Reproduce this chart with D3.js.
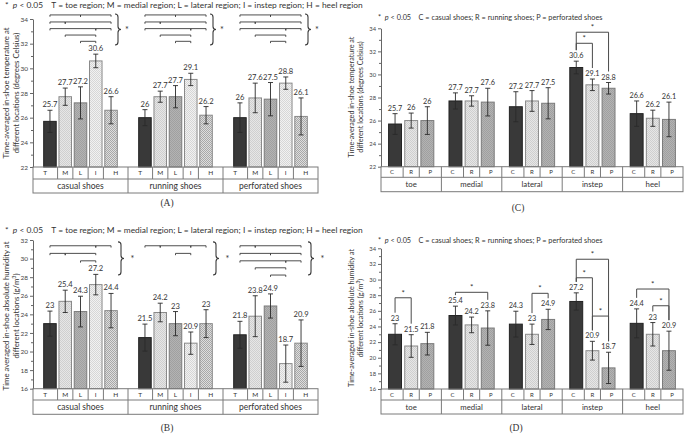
<!DOCTYPE html>
<html><head><meta charset="utf-8">
<script src="https://cdn.jsdelivr.net/npm/d3@7"></script>
<style>body{margin:0;background:#fff}svg{display:block;font-family:Lato,"Open Sans",sans-serif}</style>
</head><body><div id="chart"></div>
<script>
// ---------- data ----------
const regions = ["T","M","L","I","H"];
const regionNames = ["toe","medial","lateral","instep","heel"];
const shoes = ["casual shoes","running shoes","perforated shoes"];
const shoeCodes = ["C","R","P"];

// in-shoe temperature (deg C), rows = shoes, cols = regions
const tempMean = [
  [25.7, 27.7, 27.2, 30.6, 26.6],
  [26.0, 27.7, 27.7, 29.1, 26.2],
  [26.0, 27.6, 27.5, 28.8, 26.1]
];
const tempSD = [
  [0.9, 0.7, 1.3, 0.55, 1.1],
  [0.65, 0.45, 0.9, 0.5, 0.7],
  [1.2, 1.2, 1.35, 0.5, 1.5]
];
// absolute humidity (g/m3)
const humMean = [
  [23.0, 25.4, 24.3, 27.2, 24.4],
  [21.5, 24.2, 23.0, 20.9, 23.0],
  [21.8, 23.8, 24.9, 18.7, 20.9]
];
const humSD = [
  [1.35, 1.2, 1.65, 1.1, 1.85],
  [1.45, 1.0, 1.3, 1.2, 1.5],
  [1.45, 2.2, 1.3, 2.0, 2.5]
];
const tempTicks = [22,24,26,28,30,32,34];
const humTicksB = [16,18,20,22,24,26,28,30,32];
const humTicksD = [16,18,20,22,24,26,28,30,32,34];

// significant within-shoe comparisons (rows of lines)
const tempSigRows = [
  {level:34.33, pairs:[["T","L"],["L","H"]]},
  {level:33.76, pairs:[["T","M"],["M","H"]]},
  {level:33.22, pairs:[["T","I"],["I","H"]]},
  {level:32.70, pairs:[["M","I"]]},
  {level:32.19, pairs:[["L","I"]]}
];
const tempSig = [tempSigRows, tempSigRows, tempSigRows];
const humSig = [
  [{level:31.38, pairs:[["T","I"],["I","H"]]},
   {level:30.56, pairs:[["T","M"],["M","I"]]},
   {level:29.76, pairs:[["L","I"]]}],
  [{level:31.38, pairs:[["T","M"],["M","I"],["I","H"]]},
   {level:30.56, pairs:[["L","I"]]}],
  [{level:31.38, pairs:[["T","M"],["M","H"]]},
   {level:30.56, pairs:[["T","L"],["L","H"]]},
   {level:29.76, pairs:[["T","I"],["I","H"]]},
   {level:29.01, pairs:[["M","I"]]},
   {level:28.23, pairs:[["L","I"]]}]
];
// significant between-shoe comparisons
const tempCross = [
  {region:"instep", a:"C", b:"P", level:33.66},
  {region:"instep", a:"C", b:"R", level:32.7}
];
const humCross = [
  {region:"toe", a:"C", b:"R", level:27.67},
  {region:"medial", a:"C", b:"P", level:28.37},
  {region:"lateral", a:"R", b:"P", level:28.24},
  {region:"instep", a:"C", b:"P", level:32.6},
  {region:"instep", a:"C", b:"R", level:30.23},
  {region:"instep", a:"R", b:"P", level:25.33},
  {region:"heel", a:"C", b:"P", level:28.79},
  {region:"heel", a:"R", b:"P", level:26.65}
];

// ---------- drawing ----------
const W = 685, H = 434;
const svg = d3.select("#chart").append("svg").attr("width", W).attr("height", H);
svg.append("rect").attr("width", W).attr("height", H).attr("fill", "#fff");
const defs = svg.append("defs");
function dotPattern(id, bg, fg, size){
  const p = defs.append("pattern").attr("id", id).attr("patternUnits","userSpaceOnUse")
    .attr("width", size).attr("height", size);
  p.append("rect").attr("width", size).attr("height", size).attr("fill", bg);
  p.append("rect").attr("width", 1).attr("height", 1).attr("fill", fg);
  p.append("rect").attr("x", size/2).attr("y", size/2).attr("width", 1).attr("height", 1).attr("fill", fg);
}
dotPattern("pM", "#e6e6e6", "#cfcfcf", 2);
dotPattern("pL", "#b3b3b3", "#a0a0a0", 2);
dotPattern("pI", "#f1f1f1", "#d6d6d6", 2);
dotPattern("pH", "#dedede", "#a8a8a8", 2);
const regionFill = {T:"#393939", M:"url(#pM)", L:"url(#pL)", I:"url(#pI)", H:"url(#pH)"};
const regionStroke = {T:"#222", M:"#8a8a8a", L:"#7a7a7a", I:"#8a8a8a", H:"#8a8a8a"};
const shoeFill = {C:"#393939", R:"url(#pM)", P:"url(#pL)"};
const shoeStroke = {C:"#222", R:"#8a8a8a", P:"#7a7a7a"};

const txt = "#333", axisCol = "#666";
const NB = "\u00a0";

function panel(c){
  const g = svg.append("g");
  const y = d3.scaleLinear().domain(c.dom).range(c.yr);
  const gx = d3.scaleBand().domain(c.groups).range([c.x0, c.x1]);
  const sx = d3.scaleBand().domain(c.subs).range([0, gx.bandwidth()])
    .paddingInner(c.pin).paddingOuter(c.pout);
  const cx = (gname, s) => gx(gname) + sx(s) + sx.bandwidth()/2;

  // title
  const t = g.append("text").attr("x", c.tx).attr("y", c.ty).attr("font-size", c.tfs).attr("fill", txt);
  t.append("tspan").text("*" + NB + NB);
  t.append("tspan").attr("font-style","italic").text("p");
  t.append("tspan").text(NB + "<" + NB + "0.05" + NB + NB + NB + NB + c.title);

  // y axis
  const ax = g.append("g").attr("transform", `translate(${c.x0},0)`)
    .call(d3.axisLeft(y).tickValues(c.ticks).tickSize(3).tickSizeOuter(0).tickPadding(2));
  ax.select(".domain").attr("stroke", axisCol);
  ax.selectAll(".tick line").attr("stroke", axisCol);
  ax.selectAll(".tick text").attr("font-size", c.afs).attr("fill", "#444").attr("font-family","Lato,sans-serif");
  const minor = d3.range(c.dom[0]+1, c.dom[1], 2);
  g.append("g").attr("transform", `translate(${c.x0},0)`)
    .call(d3.axisLeft(y).tickValues(minor).tickSize(2).tickFormat(""))
    .call(a => { a.select(".domain").remove(); a.selectAll("line").attr("stroke", axisCol); });

  // y label
  const ylab = g.append("text").attr("transform", `translate(${c.lx},${c.ly}) rotate(-90)`)
    .attr("text-anchor","middle").attr("font-size", c.lfs).attr("fill", txt);
  ylab.append("tspan").attr("x",0).attr("dy",0).text(c.ylab[0]);
  ylab.append("tspan").attr("x",0).attr("dy", c.lgap).html(c.ylab[1]);

  // bars
  c.groups.forEach((gn, gi) => {
    c.subs.forEach((s, si) => {
      const m = c.mean(gi, si), sd = c.sd(gi, si);
      const x = gx(gn) + sx(s), w = sx.bandwidth();
      g.append("rect").attr("x", x).attr("y", y(m)).attr("width", w).attr("height", y(c.dom[0]) - y(m))
        .attr("fill", c.fill[s]).attr("stroke", c.stroke[s]).attr("stroke-width", 1);
      const xc = x + w/2;
      const e = g.append("g").attr("stroke", "#2a2a2a").attr("stroke-width", 0.9);
      e.append("line").attr("x1", xc).attr("x2", xc).attr("y1", y(m+sd)).attr("y2", y(m-sd));
      e.append("line").attr("x1", xc-2.5).attr("x2", xc+2.5).attr("y1", y(m+sd)).attr("y2", y(m+sd));
      e.append("line").attr("x1", xc-2.5).attr("x2", xc+2.5).attr("y1", y(m-sd)).attr("y2", y(m-sd));
      g.append("text").attr("x", xc).attr("y", y(m+sd) - 3).attr("text-anchor","middle")
        .attr("font-size", c.vfs).attr("fill", txt).text(d3.format("")(m));
    });
  });

  // category table
  const base = y(c.dom[0]);
  const tb = g.append("g").attr("stroke", "#7a7a7a").attr("stroke-width", 1).attr("fill","none");
  tb.append("rect").attr("x", c.x0).attr("y", base).attr("width", c.x1 - c.x0).attr("height", c.r2 - base);
  tb.append("line").attr("x1", c.x0).attr("x2", c.x1).attr("y1", c.r1).attr("y2", c.r1);
  c.groups.forEach((gn, gi) => {
    if (gi > 0) tb.append("line").attr("x1", gx(gn)).attr("x2", gx(gn)).attr("y1", base).attr("y2", c.r2);
    c.subs.forEach((s, si) => {
      if (si < c.subs.length - 1) {
        const xb = gx(gn) + sx(s) + sx.step() - (sx.step() - sx.bandwidth())/2;
        tb.append("line").attr("x1", xb).attr("x2", xb).attr("y1", base).attr("y2", c.r1);
      }
      const x0 = si === 0 ? gx(gn) : gx(gn) + sx(s) - (sx.step() - sx.bandwidth())/2;
      const x1 = si === c.subs.length - 1 ? gx(gn) + gx.bandwidth() : gx(gn) + sx(s) + sx.step() - (sx.step() - sx.bandwidth())/2;
      g.append("text").attr("x", (x0+x1)/2).attr("y", (base + c.r1)/2).attr("dy","0.35em")
        .attr("text-anchor","middle").attr("font-size", c.cfs1).attr("fill", txt).text(s);
    });
    g.append("text").attr("x", gx(gn) + gx.bandwidth()/2).attr("y", (c.r1 + c.r2)/2).attr("dy","0.35em")
      .attr("text-anchor","middle").attr("font-size", c.cfs2).attr("fill", txt).text(gn);
  });

  // caption
  g.append("text").attr("x", c.capx).attr("y", c.capy).attr("text-anchor","middle")
    .attr("font-family","'Liberation Serif',serif").attr("font-size", 9.5).attr("fill", txt).text(c.caption);

  // within-group significance lines
  if (c.sig) {
    c.groups.forEach((gn, gi) => {
      const s = g.append("g").attr("stroke", "#3a3a3a").attr("stroke-width", 0.9).attr("fill","none");
      c.sig[gi].forEach(row => {
        const yy = y(row.level);
        row.pairs.forEach(([a, b]) => {
          const xa = cx(gn, a), xb = cx(gn, b);
          s.append("path").attr("d", `M${xa},${yy+1.8}V${yy}H${xb}V${yy+1.8}`);
        });
      });
      const bx = gx(gn) + gx.bandwidth() + c.braceDx;
      const yT = y(c.brace[0]), yB = y(c.brace[1]), ym = (yT + yB)/2;
      s.append("path").attr("stroke-width", 1.1)
        .attr("d", `M${bx},${yT} Q${bx+3},${yT} ${bx+3},${yT+3} L${bx+3},${ym-3} Q${bx+3},${ym} ${bx+6},${ym} Q${bx+3},${ym} ${bx+3},${ym+3} L${bx+3},${yB-3} Q${bx+3},${yB} ${bx},${yB}`);
      g.append("text").attr("x", gx(gn) + gx.bandwidth() + c.astDx).attr("y", ym + 4)
        .attr("text-anchor","middle").attr("font-size", 9).attr("fill", txt).text("*");
    });
  }
  // between-shoe brackets
  if (c.cross) {
    const s = g.append("g").attr("stroke", "#4a4a4a").attr("stroke-width", 1).attr("fill","none");
    c.cross.forEach(b => {
      const gi = c.groups.indexOf(b.region);
      const ia = c.subs.indexOf(b.a), ib = c.subs.indexOf(b.b);
      const xa = cx(b.region, b.a), xb = cx(b.region, b.b), yy = y(b.level);
      const ea = y(c.mean(gi, ia) + c.sd(gi, ia)) - 11, eb = y(c.mean(gi, ib) + c.sd(gi, ib)) - 11;
      s.append("path").attr("d", `M${xa},${ea}V${yy}H${xb}V${eb}`);
      g.append("text").attr("x", (xa+xb)/2).attr("y", yy - 2).attr("text-anchor","middle")
        .attr("font-size", 8).attr("fill", txt).text("*");
    });
  }
}

const regionTitle = "T = toe region; M = medial region; L = lateral region; I = instep region; H = heel region";
const shoeTitle = "C = casual shoes; R = running shoes; P = perforated shoes";

panel({x0:33, x1:318, dom:[22,34], yr:[167,19], r1:179, r2:193, ticks:tempTicks,
  groups:shoes, subs:regions, pin:0.18, pout:0.7,
  mean:(g,s)=>tempMean[g][s], sd:(g,s)=>tempSD[g][s], fill:regionFill, stroke:regionStroke,
  title:regionTitle, tx:5, ty:7.5, tfs:8.4, afs:6.5, vfs:7.6, cfs1:6.5, cfs2:8.5,
  ylab:["Time-averaged in-shoe temperature at","different locations (degrees Celsius)"], lx:9, ly:93, lfs:7.8, lgap:10,
  caption:"(A)", capx:167, capy:206, sig:tempSig, brace:[34.41,31.89], braceDx:-13, astDx:-1});

panel({x0:33, x1:318, dom:[16,32], yr:[388.7,240], r1:400, r2:414.3, ticks:humTicksB,
  groups:shoes, subs:regions, pin:0.18, pout:0.7,
  mean:(g,s)=>humMean[g][s], sd:(g,s)=>humSD[g][s], fill:regionFill, stroke:regionStroke,
  title:regionTitle, tx:5, ty:232.5, tfs:8.4, afs:6.5, vfs:7.6, cfs1:6.5, cfs2:8.5,
  ylab:["Time averaged in-shoe absolute humidity at","different locations (g/m<tspan baseline-shift='super' font-size='5.5'>3</tspan>)"], lx:9, ly:316, lfs:7.8, lgap:10,
  caption:"(B)", capx:167, capy:431, sig:humSig, brace:[31.8,28.23], braceDx:-10, astDx:4.5});

panel({x0:381, x1:683, dom:[22,34], yr:[166.7,28.3], r1:177.3, r2:191.7, ticks:tempTicks,
  groups:regionNames, subs:shoeCodes, pin:0.2, pout:0.47,
  mean:(g,s)=>tempMean[s][g], sd:(g,s)=>tempSD[s][g], fill:shoeFill, stroke:shoeStroke,
  title:shoeTitle, tx:378, ty:20, tfs:7.3, afs:5.8, vfs:7.3, cfs1:6, cfs2:7.8,
  ylab:["Time-averaged in-shoe temperature at","different locations (degrees Celsius)"], lx:354, ly:97, lfs:7.2, lgap:9,
  caption:"(C)", capx:518, capy:211, cross:tempCross});

panel({x0:381, x1:683, dom:[16,34], yr:[389,248.3], r1:400, r2:414, ticks:humTicksD,
  groups:regionNames, subs:shoeCodes, pin:0.2, pout:0.47,
  mean:(g,s)=>humMean[s][g], sd:(g,s)=>humSD[s][g], fill:shoeFill, stroke:shoeStroke,
  title:shoeTitle, tx:378, ty:243, tfs:7.3, afs:5.8, vfs:7.3, cfs1:6, cfs2:7.8,
  ylab:["Time-averaged in-shoe absolute humidity at","different locations (g/m<tspan baseline-shift='super' font-size='5'>3</tspan>)"], lx:354, ly:318, lfs:7.2, lgap:9,
  caption:"(D)", capx:516, capy:431, cross:humCross});
</script></body></html>
